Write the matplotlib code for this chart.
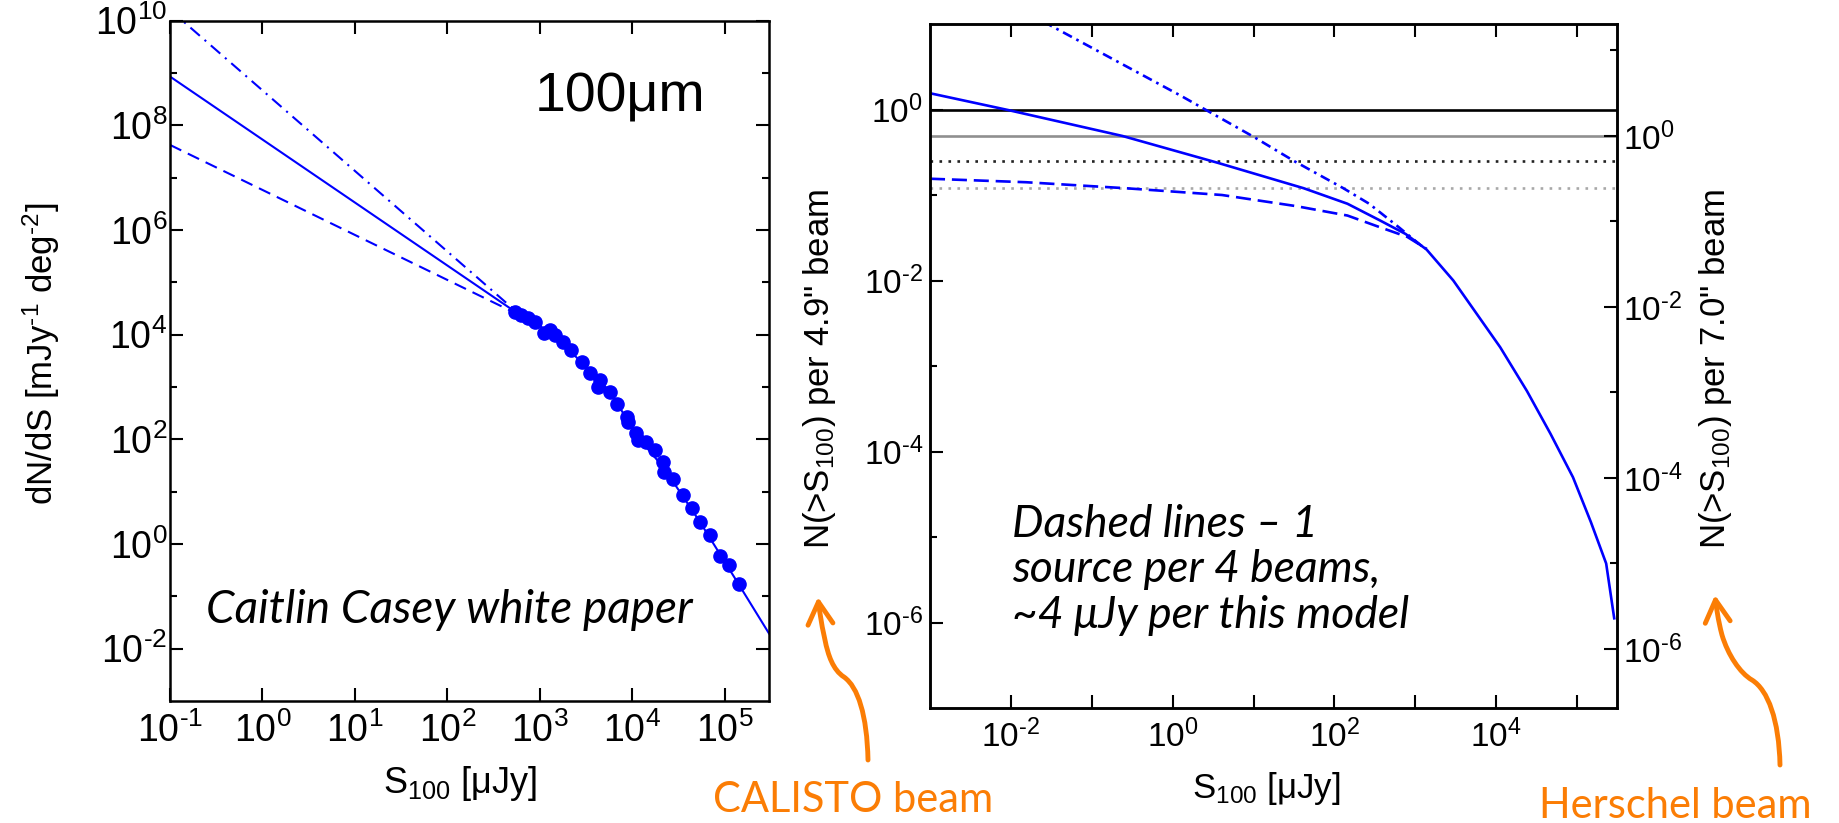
import matplotlib
matplotlib.use('Agg')
import matplotlib.pyplot as plt
from matplotlib.path import Path
from matplotlib.patches import FancyArrowPatch
from matplotlib.ticker import FixedLocator, NullLocator, NullFormatter

plt.rcParams['font.family'] = ['Liberation Sans', 'DejaVu Sans']
plt.rcParams['mathtext.fontset'] = 'custom'
plt.rcParams['mathtext.rm'] = 'Liberation Sans'
plt.rcParams['mathtext.it'] = 'Liberation Sans:italic'
plt.rcParams['mathtext.default'] = 'regular'

# ---- left panel: 100um differential counts (S in uJy, dN/dS in mJy^-1 deg^-2)
pts_S = [537, 631, 741, 891, 1096, 1288, 1445, 1778, 2188, 2818, 3467, 4266, 4467,
         5754, 6761, 8710, 8913, 1.10e4, 1.15e4, 1.41e4, 1.74e4, 2.14e4, 2.19e4,
         2.75e4, 3.55e4, 4.37e4, 5.37e4, 6.92e4, 8.91e4, 1.10e5, 1.41e5]
pts_dnds = [2.75e4, 2.34e4, 2.04e4, 1.74e4, 1.05e4, 1.23e4, 9.8e3, 7.2e3, 5.0e3, 3.0e3,
            1.82e3, 1.0e3, 1.35e3, 813, 479, 269, 214, 129, 95, 89, 62, 37, 24,
            17.8, 8.5, 4.8, 2.6, 1.48, 0.60, 0.39, 0.17]
model_S = [0.1, 537, 1300, 2800, 5800, 1.1e4, 2.2e4, 5.4e4, 1.41e5, 3.0e5]
model_dnds = [8.5e8, 2.75e4, 1.1e4, 3.0e3, 800, 120, 28, 2.6, 0.17, 0.0195]
steep_S = [0.1, 537]
steep_dnds = [1.6e10, 2.9e4]
shallow_S = [0.1, 537]
shallow_dnds = [4.2e7, 2.6e4]

# ---- right panel: cumulative counts per 4.9" beam
cum_S = [1e-3, 9.5e-3, 0.24, 3.5, 41.7, 145, 372, 759, 1380, 2950, 4365,
         1.12e4, 2.4e4, 4.68e4, 8.9e4, 1.48e5, 2.29e5, 2.88e5]
cum_N = [1.55, 0.98, 0.49, 0.24, 0.12, 0.079, 0.050, 0.035, 0.023, 0.010, 5.9e-3,
         1.66e-3, 5.1e-4, 1.62e-4, 5.0e-5, 1.5e-5, 4.9e-6, 1.12e-6]
cum_flat_S = [1e-3, 0.0155, 0.263, 4.07, 33.9, 145, 372, 794, 1380]
cum_flat_N = [0.155, 0.141, 0.120, 0.100, 0.074, 0.0575, 0.0417, 0.0324, 0.0234]
cum_steep_S = [0.025, 1.26, 2.75, 10, 31.6, 129, 269, 631, 1175, 1380]
cum_steep_N = [10.7, 1.45, 0.955, 0.48, 0.25, 0.12, 0.079, 0.0417, 0.0257, 0.0234]
level_vals = [1.0, 0.49, 0.25, 0.12]
level_colors = ['black', '#8f8f8f', '#222222', '#a8a8a8']
level_styles = ['-', '-', (0, (1, 2.4)), (0, (1, 2.4))]
beam_ratio = (7.0 / 4.9) ** 2

left_xexp = [-1, 0, 1, 2, 3, 4, 5]
left_yexp = [10, 8, 6, 4, 2, 0, -2]
left_yexp_minor = [9, 7, 5, 3, 1, -1]
right_xexp = [-2, 0, 2, 4]
right_xexp_minor = [-1, 1, 3, 5]
right_yexp = [0, -2, -4, -6]
right_yexp_minor = [-1, -3, -5]
twin_yexp_minor = [1, -1, -3, -5]

blue = '#0000ff'
orange = '#fb7d05'


def pow_labels(exps):
    return [r'$10^{\text{%d}}$' % e for e in exps]


def style_ticks(ax, size, **kw):
    ax.tick_params(which='major', direction='in', length=9.4, width=1.5,
                   labelsize=size, **kw)
    ax.tick_params(which='minor', direction='in', length=4.7, width=1.5, **kw)
    ax.xaxis.set_minor_formatter(NullFormatter())
    ax.yaxis.set_minor_formatter(NullFormatter())
    for s in ax.spines.values():
        s.set_linewidth(1.8)


fig = plt.figure(figsize=(18.39, 8.23), dpi=100)

# ---------------- left panel
ax1 = fig.add_axes([170 / 1839, 1 - 701 / 823, 599 / 1839, 680.5 / 823])
ax1.set_xscale('log')
ax1.set_yscale('log')
ax1.plot(model_S, model_dnds, color=blue, lw=1.5)
ax1.plot(steep_S, steep_dnds, color=blue, lw=1.5, ls=(0, (6, 3, 1, 3)))
ax1.plot(shallow_S, shallow_dnds, color=blue, lw=1.5, ls=(0, (6, 3.5)))
ax1.plot(pts_S, pts_dnds, 'o', color=blue, ms=9.5, mec=blue)
ax1.set_xlim(0.1, 3.0e5)
ax1.set_ylim(1e-3, 1e10)
ax1.xaxis.set_major_locator(FixedLocator([10.0 ** e for e in left_xexp]))
ax1.set_xticklabels(pow_labels(left_xexp))
ax1.xaxis.set_minor_locator(NullLocator())
ax1.yaxis.set_major_locator(FixedLocator([10.0 ** e for e in left_yexp]))
ax1.set_yticklabels(pow_labels(left_yexp))
ax1.yaxis.set_minor_locator(FixedLocator([10.0 ** e for e in left_yexp_minor]))
style_ticks(ax1, 27, top=True, right=True)
ax1.tick_params(axis='x', pad=8)
ax1.tick_params(axis='y', pad=2)
ax1.set_xlabel(r'S$_{100}$ [μJy]', fontsize=26)
ax1.xaxis.set_label_coords(0.484, -0.1205)
ax1.xaxis.label.set_va('center')
ax1.set_ylabel(r'dN/dS [mJy$^{\text{-1}}$ deg$^{\text{-2}}$]', fontsize=25)
ax1.yaxis.set_label_coords(-0.215, 0.51)
ax1.yaxis.label.set_va('center')

# ---------------- right panel
ax2 = fig.add_axes([930 / 1839, 1 - 708 / 823, 687.5 / 1839, 684 / 823])
ax2.set_xscale('log')
ax2.set_yscale('log')
for v, c, ls in zip(level_vals, level_colors, level_styles):
    ax2.axhline(v, color=c, lw=1.9, ls=ls)
ax2.plot(cum_flat_S, cum_flat_N, color=blue, lw=1.9, ls=(0, (5.7, 2.6)))
ax2.plot(cum_steep_S, cum_steep_N, color=blue, lw=1.9, ls=(0, (3.8, 1.9, 1, 1.9)))
ax2.plot(cum_S, cum_N, color=blue, lw=1.9)
ax2.set_xlim(1e-3, 10 ** 5.5)
ax2.set_ylim(1e-7, 10)
ax2.xaxis.set_major_locator(FixedLocator([10.0 ** e for e in right_xexp]))
ax2.set_xticklabels(pow_labels(right_xexp))
ax2.xaxis.set_minor_locator(FixedLocator([10.0 ** e for e in right_xexp_minor]))
ax2.yaxis.set_major_locator(FixedLocator([10.0 ** e for e in right_yexp]))
ax2.set_yticklabels(pow_labels(right_yexp))
ax2.yaxis.set_minor_locator(FixedLocator([10.0 ** e for e in right_yexp_minor]))
style_ticks(ax2, 24, top=True, right=False)
ax2.tick_params(axis='x', which='minor', length=9.4)
ax2.tick_params(axis='x', pad=8)
ax2.tick_params(axis='y', pad=5)
ax2.set_xlabel(r'S$_{100}$ [μJy]', fontsize=25)
ax2.xaxis.set_label_coords(0.489, -0.118)
ax2.xaxis.label.set_va('center')
ax2.set_ylabel(r'N(>S$_{100}$) per 4.9" beam', fontsize=25)
ax2.yaxis.set_label_coords(-0.16, 0.4956)
ax2.yaxis.label.set_va('center')

ax3 = ax2.twinx()
ax3.set_yscale('log')
ax3.set_ylim(1e-7 * beam_ratio, 10 * beam_ratio)
ax3.yaxis.set_major_locator(FixedLocator([10.0 ** e for e in right_yexp]))
ax3.set_yticklabels(pow_labels(right_yexp))
ax3.yaxis.set_minor_locator(FixedLocator([10.0 ** e for e in twin_yexp_minor]))
style_ticks(ax3, 24)
ax3.tick_params(axis='y', pad=4)
ax3.set_ylabel(r'N(>S$_{100}$) per 7.0" beam', fontsize=25, rotation=90)
ax3.yaxis.set_label_coords(1.143, 0.4956)
ax3.yaxis.label.set_va('center')

# ---------------- annotations
note_font = ['Lato', 'Open Sans', 'DejaVu Sans']
fig.text(620 / 1839, 1 - 97 / 823, '100μm', fontsize=40, ha='center', va='center')
fig.text(206 / 1839, 1 - 610 / 823, 'Caitlin Casey white paper', family=note_font,
         style='italic', fontsize=33, ha='left', va='center')
fig.text(1012 / 1839, 1 - 570 / 823,
         'Dashed lines – 1\nsource per 4 beams,\n~4 μJy per this model',
         family=note_font, style='italic', fontsize=32, ha='left', va='center',
         linespacing=1.13)
fig.text(853 / 1839, 1 - 800 / 823, 'CALISTO beam', family=note_font,
         fontsize=30, color=orange, ha='center', va='center')
fig.text(1675 / 1839, 1 - 806 / 823, 'Herschel beam', family=note_font,
         fontsize=30, color=orange, ha='center', va='center')


def curvy_arrow(pts):
    verts = [(x / 1839, 1 - y / 823) for x, y in pts]
    codes = [Path.MOVETO] + [Path.CURVE4] * (len(verts) - 1)
    arr = FancyArrowPatch(path=Path(verts, codes), arrowstyle='->,head_length=0.8,head_width=0.45',
                          mutation_scale=20, lw=3.5, color=orange,
                          transform=fig.transFigure, shrinkA=0, shrinkB=0,
                          capstyle='round', joinstyle='round')
    fig.add_artist(arr)


curvy_arrow([(868, 760), (867, 715), (858, 687), (844, 677),
             (833, 670), (828, 655), (825, 640),
             (821, 622), (819, 608), (818, 597)])
curvy_arrow([(1780, 765), (1779, 720), (1768, 690), (1752, 680),
             (1740, 673), (1728, 655), (1722, 635),
             (1718, 620), (1716, 605), (1715, 595)])

fig.savefig('out.png', dpi=100)
